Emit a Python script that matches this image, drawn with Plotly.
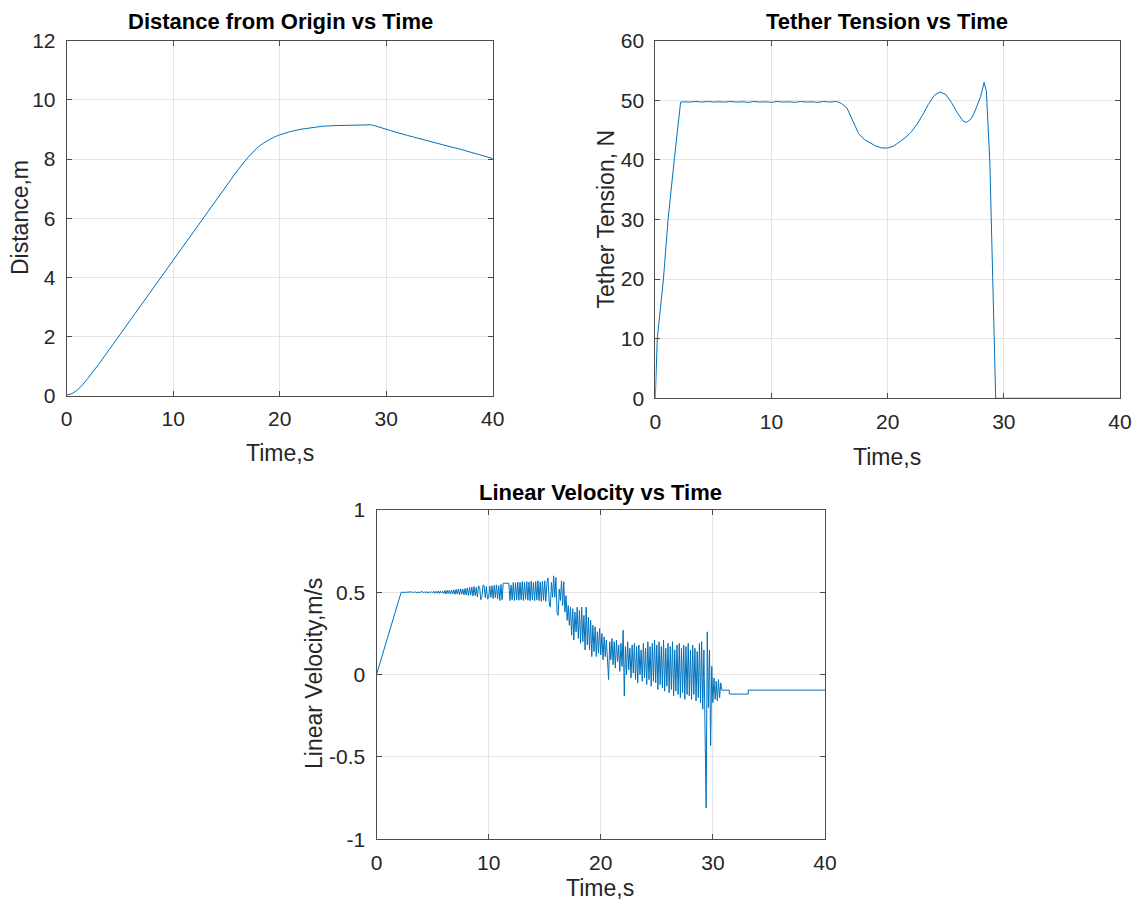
import plotly.graph_objects as go

# ---------------- data ----------------
dist_t = [0, 0.5, 1, 1.5, 2, 2.5, 3, 4, 5, 6, 7, 8, 9, 10, 11, 12, 13, 14, 15, 16,
          17, 17.5, 18, 18.5, 19, 19.5, 20, 21, 22, 23, 24, 25, 26, 27, 28, 28.6,
          29, 30, 31, 32, 33, 34, 35, 36, 37, 38, 39, 40]
dist_m = [0.03, 0.08, 0.2, 0.38, 0.6, 0.82, 1.07, 1.57, 2.07, 2.57, 3.08, 3.58, 4.09,
          4.6, 5.1, 5.6, 6.1, 6.6, 7.1, 7.6, 8.05, 8.25, 8.42, 8.55, 8.66, 8.75, 8.82,
          8.93, 9.01, 9.07, 9.11, 9.13, 9.14, 9.15, 9.16, 9.16, 9.12, 9.0, 8.9, 8.8,
          8.7, 8.6, 8.5, 8.42, 8.33, 8.23, 8.13, 8.02]

tens_t = [0, 0.17, 0.7, 1.1, 1.63, 2.18,
          2.5, 3.0, 3.5, 4.0, 4.5, 5.0, 5.5, 6.0, 6.5, 7.0, 7.5, 8.0, 8.5, 9.0, 9.5,
          10.0, 10.5, 11.0, 11.5, 12.0, 12.5, 13.0, 13.5, 14.0, 14.5, 15.0, 15.6,
          16.0, 16.5, 17.0, 17.5, 18.0, 18.5, 19.0, 19.5, 20.0, 20.5, 21.0, 21.5,
          22.0, 22.5, 23.0, 23.5, 24.0, 24.5, 25.0, 25.5, 26.0, 26.5, 26.8, 27.2,
          27.6, 28.0, 28.3, 28.5, 28.8, 29.1, 29.3, 40]
tens_n = [0, 10, 20, 30, 40, 49.7,
          49.75, 49.7, 49.8, 49.7, 49.8, 49.7, 49.75, 49.7, 49.8, 49.7, 49.75, 49.65,
          49.8, 49.7, 49.75, 49.65, 49.8, 49.7, 49.75, 49.65, 49.8, 49.7, 49.75, 49.65,
          49.8, 49.7, 49.8,
          49.5, 48.7, 46.5, 44.4, 43.4, 42.8, 42.3, 42.0, 42.0, 42.3, 43.0, 43.7,
          44.6, 45.9, 47.5, 49.3, 50.8, 51.4, 51.0, 49.6, 47.9, 46.5, 46.3, 46.9,
          48.6, 50.6, 53.0, 51.5, 39.4, 17.1, 0, 0]

vel_ramp_t = [0, 2.2, 2.6]
vel_ramp_v = [0, 0.5, 0.5]
vel_noise_start = 3.0
vel_noise_step = 0.1
vel_noise_v = [
    0.500, 0.503, 0.498, 0.502, 0.499, 0.503, 0.497, 0.502, 0.499, 0.501,   # 3
    0.500, 0.505, 0.496, 0.504, 0.497, 0.505, 0.495, 0.503, 0.498, 0.504,   # 4
    0.497, 0.507, 0.494, 0.506, 0.495, 0.508, 0.493, 0.507, 0.496, 0.506,   # 5
    0.492, 0.512, 0.490, 0.511, 0.493, 0.514, 0.489, 0.513, 0.491, 0.515,   # 6
    0.488, 0.518, 0.490, 0.520, 0.486, 0.522, 0.489, 0.519, 0.485, 0.524,   # 7
    0.484, 0.527, 0.480, 0.530, 0.483, 0.532, 0.478, 0.535, 0.481, 0.530,   # 8
    0.472, 0.540, 0.530, 0.455, 0.470, 0.545, 0.540, 0.468, 0.535, 0.460,   # 9
    0.465, 0.538, 0.470, 0.540, 0.462, 0.542, 0.468, 0.545, 0.460, 0.540,   # 10
    0.450, 0.548, 0.455, 0.555, 0.555, 0.555, 0.555, 0.555, 0.555, 0.450,   # 11
    0.545, 0.455, 0.560, 0.450, 0.558, 0.455, 0.562, 0.452, 0.560, 0.455,   # 12
    0.565, 0.450, 0.560, 0.458, 0.566, 0.452, 0.562, 0.450, 0.568, 0.455,   # 13
    0.560, 0.448, 0.565, 0.455, 0.570, 0.450, 0.562, 0.445, 0.568, 0.452,   # 14
    0.570, 0.445, 0.560, 0.587, 0.440, 0.410, 0.560, 0.470, 0.600, 0.470,   # 15
    0.590, 0.380, 0.360, 0.520, 0.450, 0.570, 0.420, 0.565, 0.380, 0.480,   # 16
    0.330, 0.420, 0.300, 0.410, 0.240, 0.400, 0.210, 0.380, 0.260, 0.410,   # 17
    0.220, 0.390, 0.190, 0.410, 0.200, 0.360, 0.150, 0.410, 0.180, 0.350,   # 18
    0.150, 0.330, 0.110, 0.300, 0.140, 0.290, 0.110, 0.260, 0.130, 0.280,   # 19
    0.120, 0.250, 0.090, 0.230, 0.110, 0.210, 0.080, -0.030, 0.200, 0.090,  # 20
    0.220, 0.060, 0.200, 0.040, 0.210, 0.080, 0.180, 0.020, 0.190, 0.050,   # 21
    0.270, -0.130, 0.170, 0.000, 0.200, 0.030, 0.160, -0.020, 0.180, 0.010, # 22
    0.190, -0.030, 0.170, -0.050, 0.180, 0.000, 0.150, -0.040, 0.190, -0.020,  # 23
    0.160, -0.060, 0.200, -0.030, 0.170, -0.070, 0.190, -0.040, 0.210, -0.050, # 24
    0.180, -0.090, 0.200, -0.060, 0.170, -0.080, 0.210, -0.100, 0.160, -0.070, # 25
    0.190, -0.110, 0.170, -0.090, 0.200, -0.130, 0.150, -0.100, 0.180, -0.120, # 26
    0.190, -0.140, 0.160, -0.110, 0.180, -0.150, 0.170, -0.120, 0.190, -0.130, # 27
    0.150, -0.150, 0.180, -0.120, 0.160, -0.160, 0.140, -0.140, 0.190, -0.170, # 28
    0.200, -0.210, 0.150, -0.330, -0.810, 0.260, -0.200, 0.150, -0.430, 0.050, # 29
    -0.170, -0.020, -0.150, -0.040, -0.160, -0.030, -0.140, -0.050, -0.094, -0.094,  # 30
]
vel_tail_t = [31.46, 31.46, 33.15, 33.15, 40]
vel_tail_v = [-0.094, -0.118, -0.118, -0.094, -0.094]

vel_t = (vel_ramp_t
         + [round(vel_noise_start + vel_noise_step * i, 2) for i in range(len(vel_noise_v))]
         + vel_tail_t)
vel_v = vel_ramp_v + vel_noise_v + vel_tail_v

x_ticks = [0, 10, 20, 30, 40]
dist_ticks = [0, 2, 4, 6, 8, 10, 12]
tens_ticks = [0, 10, 20, 30, 40, 50, 60]
vel_ticks = [-1, -0.5, 0, 0.5, 1]
vel_tick_text = ['-1', '-0.5', '0', '0.5', '1']

# ---------------- figure ----------------
W, H = 1139, 907
FONT = 'Liberation Sans, Arial, Helvetica, sans-serif'
LINE = '#0072BD'

def px(x):
    return x / W

def py(y):
    return 1 - y / H

fig = go.Figure()
fig.add_trace(go.Scatter(x=dist_t, y=dist_m, mode='lines', line=dict(color=LINE, width=1),
                         xaxis='x', yaxis='y', showlegend=False))
fig.add_trace(go.Scatter(x=tens_t, y=tens_n, mode='lines', line=dict(color=LINE, width=1),
                         xaxis='x2', yaxis='y2', showlegend=False))
fig.add_trace(go.Scatter(x=vel_t, y=vel_v, mode='lines', line=dict(color=LINE, width=1),
                         xaxis='x3', yaxis='y3', showlegend=False))

axis_common = dict(showline=True, linecolor='#4d4d4d', linewidth=1, mirror='ticks',
                   ticks='inside', ticklen=5, tickcolor='#4d4d4d', showgrid=True,
                   gridcolor='#e4e4e4', gridwidth=1, zeroline=False, automargin=False,
                   tickfont=dict(family=FONT, size=21, color='#262626'))

fig.update_layout(
    width=W, height=H, margin=dict(l=0, r=0, t=0, b=0, pad=0, autoexpand=False),
    paper_bgcolor='white', plot_bgcolor='white', showlegend=False,
    xaxis=dict(axis_common, domain=[px(66.7), px(492.7)], range=[0, 40], tickvals=x_ticks,
               anchor='y', ticklabelstandoff=4),
    yaxis=dict(axis_common, domain=[py(396), py(40.7)], range=[0, 12], tickvals=dist_ticks,
               anchor='x', ticklabelstandoff=6),
    xaxis2=dict(axis_common, domain=[px(655.3), px(1120)], range=[0, 40], tickvals=x_ticks,
                anchor='y2', ticklabelstandoff=4),
    yaxis2=dict(axis_common, domain=[py(398.3), py(40.7)], range=[0, 60], tickvals=tens_ticks,
                anchor='x2', ticklabelstandoff=6),
    xaxis3=dict(axis_common, domain=[px(376.5), px(825)], range=[0, 40], tickvals=x_ticks,
                anchor='y3', ticklabelstandoff=4),
    yaxis3=dict(axis_common, domain=[py(839.3), py(510)], range=[-1, 1], tickvals=vel_ticks,
                ticktext=vel_tick_text, anchor='x3', ticklabelstandoff=6),
)

def label(text, x, y, size, bold=False, angle=0):
    fig.add_annotation(text=f'<b>{text}</b>' if bold else text, x=px(x), y=py(y),
                       xref='paper', yref='paper', showarrow=False, textangle=angle,
                       xanchor='center', yanchor='middle',
                       font=dict(family=FONT, size=size, color='#000000' if bold else '#262626'))

label('Distance from Origin vs Time', 280, 22, 22, bold=True)
label('Tether Tension vs Time', 887, 22, 22, bold=True)
label('Linear Velocity vs Time', 600, 492, 22, bold=True)
label('Time,s', 280, 453, 23)
label('Time,s', 887, 457, 23)
label('Time,s', 600, 888, 23)
label('Distance,m', 20, 218, 23, angle=-90)
label('Tether Tension, N', 606, 219.5, 23, angle=-90)
label('Linear Velocity,m/s', 314, 674, 23, angle=-90)

fig.write_html('out.html', config={'displayModeBar': False},
               post_script="document.body.style.margin='0';document.body.style.overflow='hidden';")
